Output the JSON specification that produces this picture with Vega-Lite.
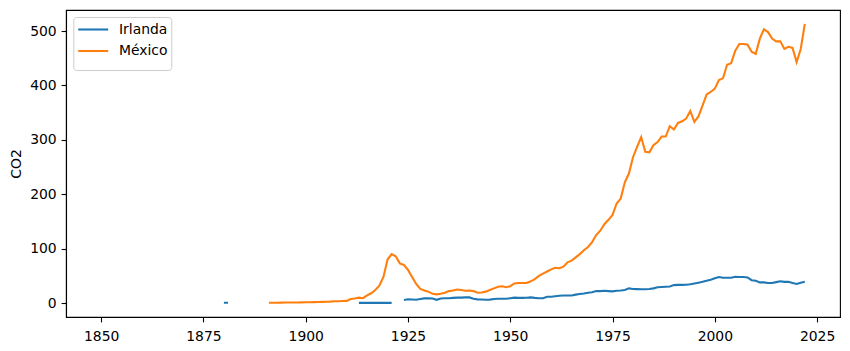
{
  "$schema": "https://vega.github.io/schema/vega-lite/v6.json",
  "width": 774,
  "height": 307,
  "autosize": {"type": "none"},
  "padding": {"left": 66, "top": 10, "right": 10, "bottom": 34},
  "config": {
    "font": "DejaVu Sans",
    "view": {"stroke": "black", "strokeWidth": 1.1},
    "axis": {
      "domainColor": "black", "domainWidth": 1.1, "tickColor": "black", "tickWidth": 1.1,
      "tickSize": 4.9, "labelFontSize": 13.9, "labelColor": "black", "labelPadding": 4.9,
      "grid": false, "titleFontSize": 13.9, "titleFontWeight": "normal", "titleColor": "black"
    },
    "mark": {"invalid": "break-paths-show-domains"}
  },
  "data": {"values": [
    {"year": 1880, "country": "Irlanda", "co2": 0.5},
    {"year": 1881, "country": "Irlanda", "co2": 0.5},
    {"year": 1882, "country": "Irlanda", "co2": null},
    {"year": 1912, "country": "Irlanda", "co2": null},
    {"year": 1913, "country": "Irlanda", "co2": 0.3},
    {"year": 1914, "country": "Irlanda", "co2": 0.3},
    {"year": 1915, "country": "Irlanda", "co2": 0.3},
    {"year": 1916, "country": "Irlanda", "co2": 0.3},
    {"year": 1917, "country": "Irlanda", "co2": 0.3},
    {"year": 1918, "country": "Irlanda", "co2": 0.3},
    {"year": 1919, "country": "Irlanda", "co2": 0.3},
    {"year": 1920, "country": "Irlanda", "co2": 0.3},
    {"year": 1921, "country": "Irlanda", "co2": 0.3},
    {"year": 1922, "country": "Irlanda", "co2": null},
    {"year": 1923, "country": "Irlanda", "co2": null},
    {"year": 1924, "country": "Irlanda", "co2": 5.5},
    {"year": 1925, "country": "Irlanda", "co2": 7},
    {"year": 1926, "country": "Irlanda", "co2": 6.5},
    {"year": 1927, "country": "Irlanda", "co2": 6},
    {"year": 1928, "country": "Irlanda", "co2": 7.5},
    {"year": 1929, "country": "Irlanda", "co2": 8.6},
    {"year": 1930, "country": "Irlanda", "co2": 8.6},
    {"year": 1931, "country": "Irlanda", "co2": 8.5},
    {"year": 1932, "country": "Irlanda", "co2": 6},
    {"year": 1933, "country": "Irlanda", "co2": 8.5},
    {"year": 1934, "country": "Irlanda", "co2": 9},
    {"year": 1935, "country": "Irlanda", "co2": 9},
    {"year": 1936, "country": "Irlanda", "co2": 9.5},
    {"year": 1937, "country": "Irlanda", "co2": 10},
    {"year": 1938, "country": "Irlanda", "co2": 10},
    {"year": 1939, "country": "Irlanda", "co2": 10.4},
    {"year": 1940, "country": "Irlanda", "co2": 10.4},
    {"year": 1941, "country": "Irlanda", "co2": 8},
    {"year": 1942, "country": "Irlanda", "co2": 6.8},
    {"year": 1943, "country": "Irlanda", "co2": 6.5},
    {"year": 1944, "country": "Irlanda", "co2": 6},
    {"year": 1945, "country": "Irlanda", "co2": 6.3},
    {"year": 1946, "country": "Irlanda", "co2": 7.5},
    {"year": 1947, "country": "Irlanda", "co2": 8},
    {"year": 1948, "country": "Irlanda", "co2": 8},
    {"year": 1949, "country": "Irlanda", "co2": 8},
    {"year": 1950, "country": "Irlanda", "co2": 9},
    {"year": 1951, "country": "Irlanda", "co2": 10},
    {"year": 1952, "country": "Irlanda", "co2": 9.5},
    {"year": 1953, "country": "Irlanda", "co2": 9.5},
    {"year": 1954, "country": "Irlanda", "co2": 9.8},
    {"year": 1955, "country": "Irlanda", "co2": 10.5},
    {"year": 1956, "country": "Irlanda", "co2": 9.5},
    {"year": 1957, "country": "Irlanda", "co2": 9},
    {"year": 1958, "country": "Irlanda", "co2": 9},
    {"year": 1959, "country": "Irlanda", "co2": 11.5},
    {"year": 1960, "country": "Irlanda", "co2": 11.5},
    {"year": 1961, "country": "Irlanda", "co2": 12.5},
    {"year": 1962, "country": "Irlanda", "co2": 13.5},
    {"year": 1963, "country": "Irlanda", "co2": 13.8},
    {"year": 1964, "country": "Irlanda", "co2": 14},
    {"year": 1965, "country": "Irlanda", "co2": 14},
    {"year": 1966, "country": "Irlanda", "co2": 15.5},
    {"year": 1967, "country": "Irlanda", "co2": 16.5},
    {"year": 1968, "country": "Irlanda", "co2": 17.5},
    {"year": 1969, "country": "Irlanda", "co2": 19},
    {"year": 1970, "country": "Irlanda", "co2": 20},
    {"year": 1971, "country": "Irlanda", "co2": 22},
    {"year": 1972, "country": "Irlanda", "co2": 22},
    {"year": 1973, "country": "Irlanda", "co2": 22.6},
    {"year": 1974, "country": "Irlanda", "co2": 22},
    {"year": 1975, "country": "Irlanda", "co2": 21.5},
    {"year": 1976, "country": "Irlanda", "co2": 22.5},
    {"year": 1977, "country": "Irlanda", "co2": 23},
    {"year": 1978, "country": "Irlanda", "co2": 24},
    {"year": 1979, "country": "Irlanda", "co2": 27},
    {"year": 1980, "country": "Irlanda", "co2": 26},
    {"year": 1981, "country": "Irlanda", "co2": 25.7},
    {"year": 1982, "country": "Irlanda", "co2": 25.5},
    {"year": 1983, "country": "Irlanda", "co2": 25.5},
    {"year": 1984, "country": "Irlanda", "co2": 25.7},
    {"year": 1985, "country": "Irlanda", "co2": 27},
    {"year": 1986, "country": "Irlanda", "co2": 29},
    {"year": 1987, "country": "Irlanda", "co2": 29.5},
    {"year": 1988, "country": "Irlanda", "co2": 30},
    {"year": 1989, "country": "Irlanda", "co2": 30.6},
    {"year": 1990, "country": "Irlanda", "co2": 33},
    {"year": 1991, "country": "Irlanda", "co2": 33.5},
    {"year": 1992, "country": "Irlanda", "co2": 33.5},
    {"year": 1993, "country": "Irlanda", "co2": 33.6},
    {"year": 1994, "country": "Irlanda", "co2": 34.5},
    {"year": 1995, "country": "Irlanda", "co2": 36},
    {"year": 1996, "country": "Irlanda", "co2": 37.5},
    {"year": 1997, "country": "Irlanda", "co2": 39},
    {"year": 1998, "country": "Irlanda", "co2": 41},
    {"year": 1999, "country": "Irlanda", "co2": 43},
    {"year": 2000, "country": "Irlanda", "co2": 45.5},
    {"year": 2001, "country": "Irlanda", "co2": 48},
    {"year": 2002, "country": "Irlanda", "co2": 46.5},
    {"year": 2003, "country": "Irlanda", "co2": 46.4},
    {"year": 2004, "country": "Irlanda", "co2": 46.4},
    {"year": 2005, "country": "Irlanda", "co2": 48.5},
    {"year": 2006, "country": "Irlanda", "co2": 48},
    {"year": 2007, "country": "Irlanda", "co2": 48},
    {"year": 2008, "country": "Irlanda", "co2": 47},
    {"year": 2009, "country": "Irlanda", "co2": 42},
    {"year": 2010, "country": "Irlanda", "co2": 41},
    {"year": 2011, "country": "Irlanda", "co2": 38},
    {"year": 2012, "country": "Irlanda", "co2": 38},
    {"year": 2013, "country": "Irlanda", "co2": 37},
    {"year": 2014, "country": "Irlanda", "co2": 37},
    {"year": 2015, "country": "Irlanda", "co2": 38.5},
    {"year": 2016, "country": "Irlanda", "co2": 40},
    {"year": 2017, "country": "Irlanda", "co2": 39},
    {"year": 2018, "country": "Irlanda", "co2": 39},
    {"year": 2019, "country": "Irlanda", "co2": 37},
    {"year": 2020, "country": "Irlanda", "co2": 35},
    {"year": 2021, "country": "Irlanda", "co2": 37.5},
    {"year": 2022, "country": "Irlanda", "co2": 39},
    {"year": 1891, "country": "México", "co2": 0.5},
    {"year": 1892, "country": "México", "co2": 0.6},
    {"year": 1893, "country": "México", "co2": 0.7},
    {"year": 1894, "country": "México", "co2": 0.8},
    {"year": 1895, "country": "México", "co2": 0.9},
    {"year": 1896, "country": "México", "co2": 1.0},
    {"year": 1897, "country": "México", "co2": 1.1},
    {"year": 1898, "country": "México", "co2": 1.2},
    {"year": 1899, "country": "México", "co2": 1.3},
    {"year": 1900, "country": "México", "co2": 1.5},
    {"year": 1901, "country": "México", "co2": 1.6},
    {"year": 1902, "country": "México", "co2": 1.8},
    {"year": 1903, "country": "México", "co2": 2.0},
    {"year": 1904, "country": "México", "co2": 2.2},
    {"year": 1905, "country": "México", "co2": 2.4},
    {"year": 1906, "country": "México", "co2": 2.6},
    {"year": 1907, "country": "México", "co2": 3.2},
    {"year": 1908, "country": "México", "co2": 3.5},
    {"year": 1909, "country": "México", "co2": 3.7},
    {"year": 1910, "country": "México", "co2": 4},
    {"year": 1911, "country": "México", "co2": 7.5},
    {"year": 1912, "country": "México", "co2": 8.5},
    {"year": 1913, "country": "México", "co2": 10},
    {"year": 1914, "country": "México", "co2": 9},
    {"year": 1915, "country": "México", "co2": 14},
    {"year": 1916, "country": "México", "co2": 18},
    {"year": 1917, "country": "México", "co2": 24},
    {"year": 1918, "country": "México", "co2": 32},
    {"year": 1919, "country": "México", "co2": 48},
    {"year": 1920, "country": "México", "co2": 80},
    {"year": 1921, "country": "México", "co2": 90},
    {"year": 1922, "country": "México", "co2": 86},
    {"year": 1923, "country": "México", "co2": 73},
    {"year": 1924, "country": "México", "co2": 70},
    {"year": 1925, "country": "México", "co2": 61},
    {"year": 1926, "country": "México", "co2": 48},
    {"year": 1927, "country": "México", "co2": 35},
    {"year": 1928, "country": "México", "co2": 26},
    {"year": 1929, "country": "México", "co2": 23},
    {"year": 1930, "country": "México", "co2": 21},
    {"year": 1931, "country": "México", "co2": 17},
    {"year": 1932, "country": "México", "co2": 16},
    {"year": 1933, "country": "México", "co2": 17},
    {"year": 1934, "country": "México", "co2": 19},
    {"year": 1935, "country": "México", "co2": 22},
    {"year": 1936, "country": "México", "co2": 23},
    {"year": 1937, "country": "México", "co2": 25},
    {"year": 1938, "country": "México", "co2": 24},
    {"year": 1939, "country": "México", "co2": 22.6},
    {"year": 1940, "country": "México", "co2": 23},
    {"year": 1941, "country": "México", "co2": 22},
    {"year": 1942, "country": "México", "co2": 19},
    {"year": 1943, "country": "México", "co2": 19.5},
    {"year": 1944, "country": "México", "co2": 21},
    {"year": 1945, "country": "México", "co2": 24},
    {"year": 1946, "country": "México", "co2": 27},
    {"year": 1947, "country": "México", "co2": 30},
    {"year": 1948, "country": "México", "co2": 31},
    {"year": 1949, "country": "México", "co2": 29},
    {"year": 1950, "country": "México", "co2": 31},
    {"year": 1951, "country": "México", "co2": 36},
    {"year": 1952, "country": "México", "co2": 37},
    {"year": 1953, "country": "México", "co2": 37},
    {"year": 1954, "country": "México", "co2": 37},
    {"year": 1955, "country": "México", "co2": 40},
    {"year": 1956, "country": "México", "co2": 44},
    {"year": 1957, "country": "México", "co2": 50},
    {"year": 1958, "country": "México", "co2": 54},
    {"year": 1959, "country": "México", "co2": 58},
    {"year": 1960, "country": "México", "co2": 62},
    {"year": 1961, "country": "México", "co2": 65},
    {"year": 1962, "country": "México", "co2": 64},
    {"year": 1963, "country": "México", "co2": 67},
    {"year": 1964, "country": "México", "co2": 75},
    {"year": 1965, "country": "México", "co2": 78},
    {"year": 1966, "country": "México", "co2": 84},
    {"year": 1967, "country": "México", "co2": 90},
    {"year": 1968, "country": "México", "co2": 97},
    {"year": 1969, "country": "México", "co2": 103},
    {"year": 1970, "country": "México", "co2": 112},
    {"year": 1971, "country": "México", "co2": 125},
    {"year": 1972, "country": "México", "co2": 133},
    {"year": 1973, "country": "México", "co2": 145},
    {"year": 1974, "country": "México", "co2": 153},
    {"year": 1975, "country": "México", "co2": 162},
    {"year": 1976, "country": "México", "co2": 183},
    {"year": 1977, "country": "México", "co2": 192},
    {"year": 1978, "country": "México", "co2": 222},
    {"year": 1979, "country": "México", "co2": 238},
    {"year": 1980, "country": "México", "co2": 268},
    {"year": 1981, "country": "México", "co2": 287},
    {"year": 1982, "country": "México", "co2": 305},
    {"year": 1983, "country": "México", "co2": 278},
    {"year": 1984, "country": "México", "co2": 277},
    {"year": 1985, "country": "México", "co2": 290},
    {"year": 1986, "country": "México", "co2": 296},
    {"year": 1987, "country": "México", "co2": 306},
    {"year": 1988, "country": "México", "co2": 306},
    {"year": 1989, "country": "México", "co2": 325},
    {"year": 1990, "country": "México", "co2": 319},
    {"year": 1991, "country": "México", "co2": 331},
    {"year": 1992, "country": "México", "co2": 334},
    {"year": 1993, "country": "México", "co2": 339},
    {"year": 1994, "country": "México", "co2": 353},
    {"year": 1995, "country": "México", "co2": 333},
    {"year": 1996, "country": "México", "co2": 343},
    {"year": 1997, "country": "México", "co2": 363},
    {"year": 1998, "country": "México", "co2": 383.5},
    {"year": 1999, "country": "México", "co2": 388},
    {"year": 2000, "country": "México", "co2": 394},
    {"year": 2001, "country": "México", "co2": 410},
    {"year": 2002, "country": "México", "co2": 413},
    {"year": 2003, "country": "México", "co2": 438},
    {"year": 2004, "country": "México", "co2": 441},
    {"year": 2005, "country": "México", "co2": 464},
    {"year": 2006, "country": "México", "co2": 476},
    {"year": 2007, "country": "México", "co2": 476},
    {"year": 2008, "country": "México", "co2": 475},
    {"year": 2009, "country": "México", "co2": 462},
    {"year": 2010, "country": "México", "co2": 458},
    {"year": 2011, "country": "México", "co2": 486},
    {"year": 2012, "country": "México", "co2": 503},
    {"year": 2013, "country": "México", "co2": 498},
    {"year": 2014, "country": "México", "co2": 486},
    {"year": 2015, "country": "México", "co2": 481},
    {"year": 2016, "country": "México", "co2": 481},
    {"year": 2017, "country": "México", "co2": 467},
    {"year": 2018, "country": "México", "co2": 471},
    {"year": 2019, "country": "México", "co2": 469},
    {"year": 2020, "country": "México", "co2": 443},
    {"year": 2021, "country": "México", "co2": 467},
    {"year": 2022, "country": "México", "co2": 513}
  ]},
  "mark": {"type": "line", "strokeWidth": 2.08, "invalid": "break-paths-show-domains"},
  "encoding": {
    "x": {
      "field": "year", "type": "quantitative",
      "scale": {"domain": [1841.4, 2030.6], "nice": false, "zero": false},
      "axis": {"title": null, "values": [1850, 1875, 1900, 1925, 1950, 1975, 2000, 2025], "format": "d", "labelPadding": 7.5}
    },
    "y": {
      "field": "co2", "type": "quantitative",
      "scale": {"domain": [-25.6, 538.6], "nice": false, "zero": false},
      "axis": {"title": "CO2", "values": [0, 100, 200, 300, 400, 500], "titlePadding": 6}
    },
    "color": {
      "field": "country", "type": "nominal",
      "scale": {"domain": ["Irlanda", "México"], "range": ["#1f77b4", "#ff7f0e"]},
      "legend": {
        "title": " ", "titleOrient": "bottom", "titleFontSize": 8, "titlePadding": 0.5,
        "orient": "none", "legendX": 7.3, "legendY": 7,
        "symbolType": "M-2,0H2", "symbolSize": 225, "symbolStrokeWidth": 2.08,
        "labelFontSize": 13.9, "labelColor": "black", "labelOffset": 16.8,
        "padding": 3.5, "rowPadding": 5.5, "symbolOffset": 7.4,
        "fillColor": "rgba(255,255,255,0.8)", "strokeColor": "#cccccc", "cornerRadius": 3
      }
    }
  }
}
